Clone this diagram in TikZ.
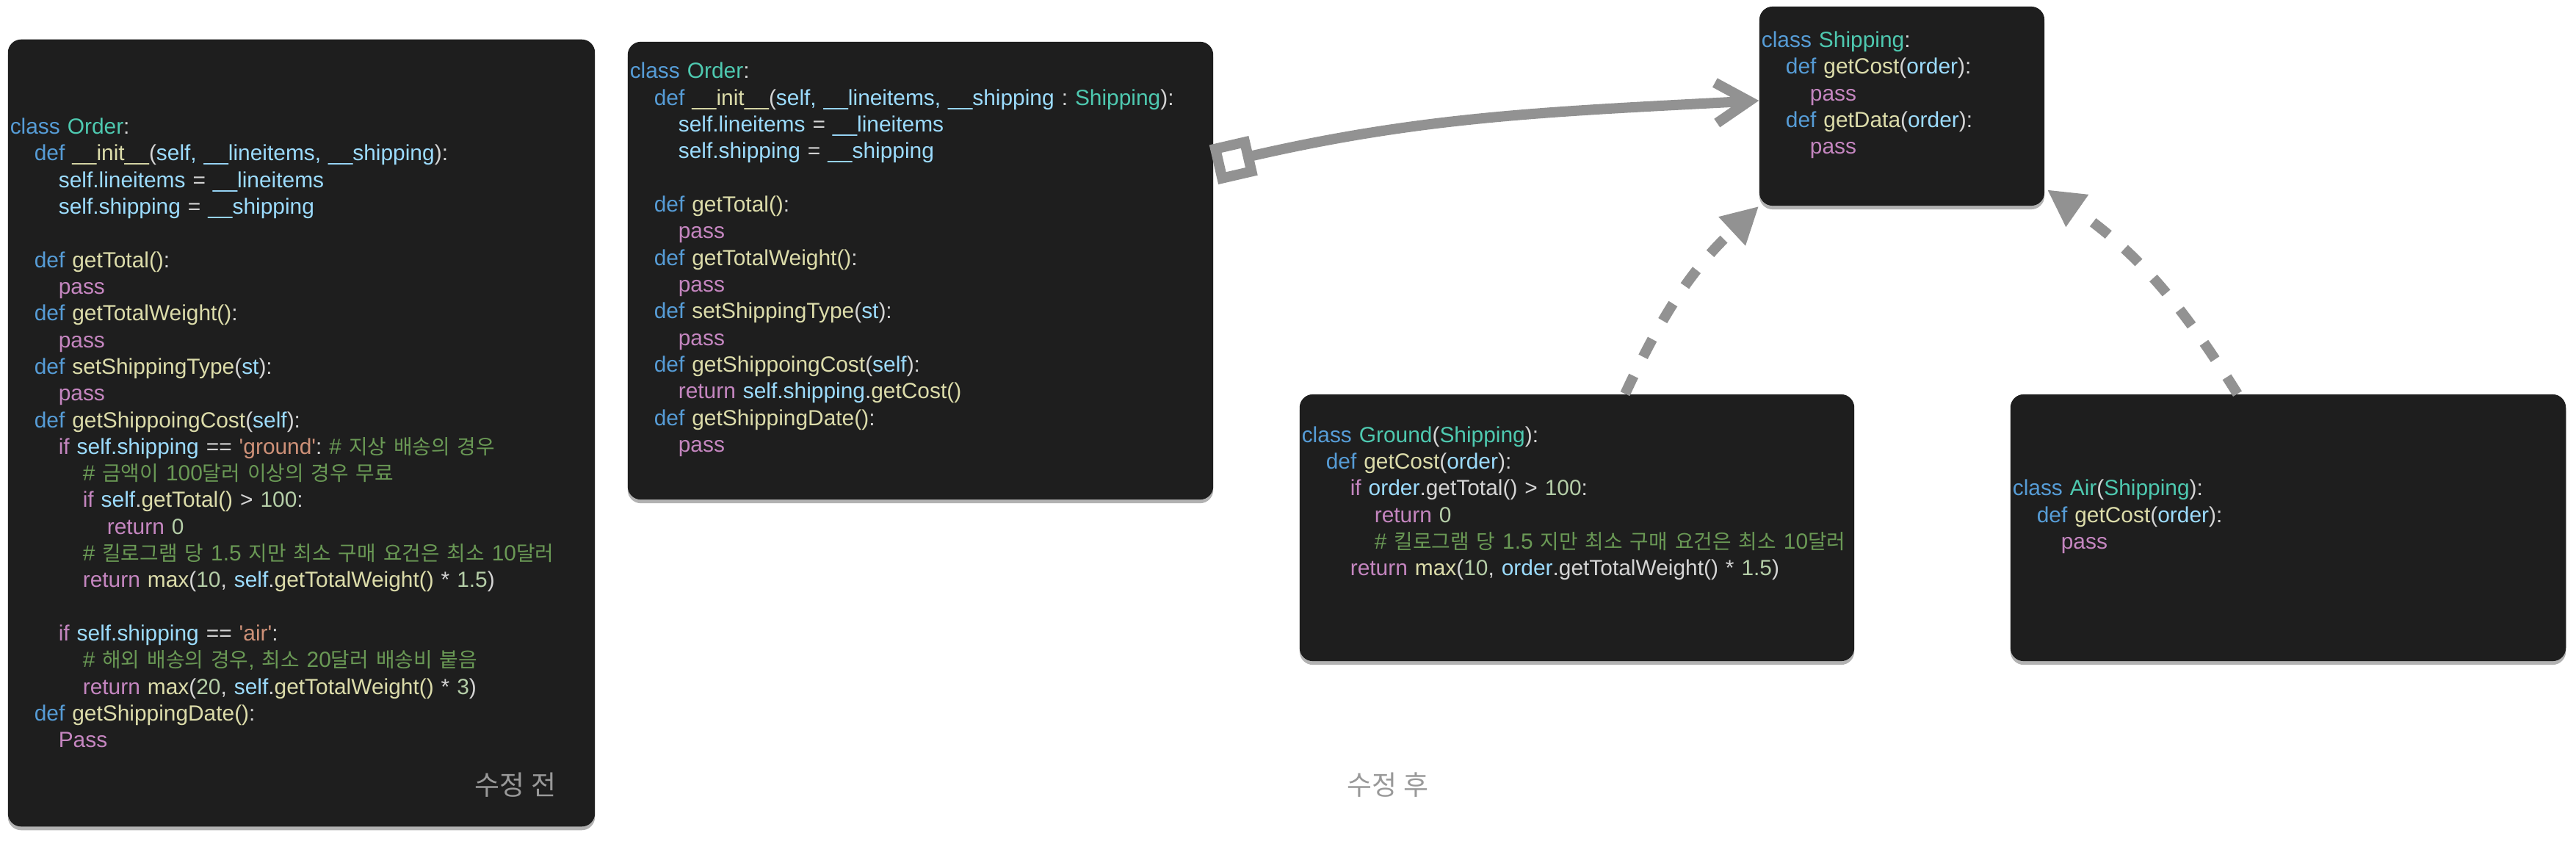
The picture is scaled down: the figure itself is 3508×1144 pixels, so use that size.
\documentclass[tikz,border=0pt]{standalone}
\usepackage{fontspec}
\setmainfont{Liberation Sans}
\newfontfamily\krfont{Noto Sans CJK KR}[Scale=0.93]
\usetikzlibrary{arrows.meta}
\usetikzlibrary{shadows}

\definecolor{boxbg}{HTML}{1E1E1E}
\definecolor{plain}{HTML}{D4D4D4}
\definecolor{kwblue}{HTML}{569CD6}
\definecolor{clsteal}{HTML}{4EC9B0}
\definecolor{fnyellow}{HTML}{DCDCAA}
\definecolor{varblue}{HTML}{9CDCFE}
\definecolor{ctlpink}{HTML}{C586C0}
\definecolor{strorange}{HTML}{CE9178}
\definecolor{cmtgreen}{HTML}{6A9955}
\definecolor{numgreen}{HTML}{B5CEA8}
\definecolor{linkgray}{HTML}{929292}
\definecolor{captiongray}{HTML}{999999}

\newcommand\kw[1]{\textcolor{kwblue}{#1}}
\newcommand\cls[1]{\textcolor{clsteal}{#1}}
\newcommand\fn[1]{\textcolor{fnyellow}{#1}}
\newcommand\vr[1]{\textcolor{varblue}{#1}}
\newcommand\ctl[1]{\textcolor{ctlpink}{#1}}
\newcommand\strg[1]{\textcolor{strorange}{#1}}
\newcommand\cmt[1]{\textcolor{cmtgreen}{#1}}
\newcommand\nm[1]{\textcolor{numgreen}{#1}}
\newcommand\kr[1]{{\krfont #1}}
\newcommand\indA{\hspace*{0.33cm}}
\newcommand\indB{\hspace*{0.66cm}}
\newcommand\indC{\hspace*{0.99cm}}
\newcommand\indD{\hspace*{1.32cm}}

\begin{document}
\begin{tikzpicture}
  [x=0.01cm, y=0.01cm,
   codebox/.style={rectangle, rounded corners=0.18cm, fill=boxbg, text=plain,
         font=\fontsize{8.5}{10.33}\selectfont\frenchspacing, align=left,
         inner xsep=0.03cm, inner ysep=0pt,
         drop shadow={shadow xshift=0cm, shadow yshift=-0.05cm, opacity=0.3, fill=black}},
   caption/.style={font=\krfont\fontsize{11.3}{13}\selectfont, text=captiongray},
   link/.style={draw=linkgray, line width=0.14cm}
  ]
 \useasboundingbox (0,0) rectangle (3508,1144);

 \path
   (410.5, 554.5) node (before)   [codebox, text width=7.93cm, minimum height=10.71cm] {%
      \kw{class} \cls{Order}:\\
      \indA\kw{def} \fn{\_\_init\_\_}(\vr{self, \_\_lineitems, \_\_shipping}):\\
      \indB\vr{self.lineitems} = \vr{\_\_lineitems}\\
      \indB\vr{self.shipping} = \vr{\_\_shipping}\\
      ~\\
      \indA\kw{def} \fn{getTotal()}:\\
      \indB\ctl{pass}\\
      \indA\kw{def} \fn{getTotalWeight()}:\\
      \indB\ctl{pass}\\
      \indA\kw{def} \fn{setShippingType}(\vr{st}):\\
      \indB\ctl{pass}\\
      \indA\kw{def} \fn{getShippoingCost}(\vr{self}):\\
      \indB\ctl{if} \vr{self.shipping} == \strg{\textquotesingle ground\textquotesingle}: \cmt{\# \kr{지상 배송의 경우}}\\
      \indC\cmt{\# \kr{금액이} 100\kr{달러 이상의 경우 무료}}\\
      \indC\ctl{if} \vr{self}.\fn{getTotal()} > \nm{100}:\\
      \indD\ctl{return} \nm{0}\\
      \indC\cmt{\# \kr{킬로그램 당} 1.5 \kr{지만 최소 구매 요건은 최소} 10\kr{달러}}\\
      \indC\ctl{return} \fn{max}(\nm{10}, \vr{self}.\fn{getTotalWeight()} * \nm{1.5})\\
      ~\\
      \indB\ctl{if} \vr{self.shipping} == \strg{\textquotesingle air\textquotesingle}:\\
      \indC\cmt{\# \kr{해외 배송의 경우}, \kr{최소} 20\kr{달러 배송비 붙음}}\\
      \indC\ctl{return} \fn{max}(\nm{20}, \vr{self}.\fn{getTotalWeight()} * \nm{3})\\
      \indA\kw{def} \fn{getShippingDate()}:\\
      \indB\ctl{Pass}}
   (702, 75)      node (beforelabel) [caption] {수정 전}
   (1253.5, 775.5) node (order)    [codebox, text width=7.91cm, minimum height=6.23cm] {%
      \kw{class} \cls{Order}:\\
      \indA\kw{def} \fn{\_\_init\_\_}(\vr{self, \_\_lineitems, \_\_shipping} : \cls{Shipping}):\\
      \indB\vr{self.lineitems} = \vr{\_\_lineitems}\\
      \indB\vr{self.shipping} = \vr{\_\_shipping}\\
      ~\\
      \indA\kw{def} \fn{getTotal()}:\\
      \indB\ctl{pass}\\
      \indA\kw{def} \fn{getTotalWeight()}:\\
      \indB\ctl{pass}\\
      \indA\kw{def} \fn{setShippingType}(\vr{st}):\\
      \indB\ctl{pass}\\
      \indA\kw{def} \fn{getShippoingCost}(\vr{self}):\\
      \indB\ctl{return} \vr{self.shipping}.\fn{getCost()}\\
      \indA\kw{def} \fn{getShippingDate()}:\\
      \indB\ctl{pass}\\
      ~}
   (2590, 999.5)  node (shipping) [codebox, text width=3.82cm, minimum height=2.71cm] {%
      \kw{class} \cls{Shipping}:\\
      \indA\kw{def} \fn{getCost}(\vr{order}):\\
      \indB\ctl{pass}\\
      \indA\kw{def} \fn{getData}(\vr{order}):\\
      \indB\ctl{pass}\\
      ~}
   (2147.5, 425.5) node (ground)   [codebox, text width=7.49cm, minimum height=3.63cm] {%
      \kw{class} \cls{Ground}(\cls{Shipping}):\\
      \indA\kw{def} \fn{getCost}(\vr{order}):\\
      \indB\ctl{if} \vr{order}.getTotal() > \nm{100}:\\
      \indC\ctl{return} \nm{0}\\
      \indC\cmt{\# \kr{킬로그램 당} 1.5 \kr{지만 최소 구매 요건은 최소} 10\kr{달러}}\\
      \indB\ctl{return} \fn{max}(\nm{10}, \vr{order}.getTotalWeight() * \nm{1.5})\\
      ~\\
      ~}
   (3116, 425.5)  node (air)      [codebox, text width=7.50cm, minimum height=3.63cm] {%
      \kw{class} \cls{Air}(\cls{Shipping}):\\
      \indA\kw{def} \fn{getCost}(\vr{order}):\\
      \indB\ctl{pass}\\
      ~}
   (1890, 75)     node (afterlabel) [caption] {수정 후}
   ;

   \begin{scope}[link]
   \draw [{Square[open, length=0.55cm, width=0.55cm]}-{Straight Barb[length=0.45cm, width=0.55cm]}]
     ([yshift=-1.68cm]order.north east) to [out=13, in=183] ([yshift=0.075cm]shipping.west);
   \draw [dash pattern=on 0.27cm off 0.29cm, -{Triangle[length=0.5cm, width=0.5cm]}]
     ([xshift=0.655cm]ground.north) to [out=65, in=223] (shipping.south west);
   \draw [dash pattern=on 0.27cm off 0.29cm, -{Triangle[length=0.5cm, width=0.5cm]}]
     ([xshift=-0.69cm]air.north) to [out=122, in=325] ([xshift=0.03cm, yshift=0.225cm]shipping.south east);
   \end{scope}

\end{tikzpicture}
\end{document}
